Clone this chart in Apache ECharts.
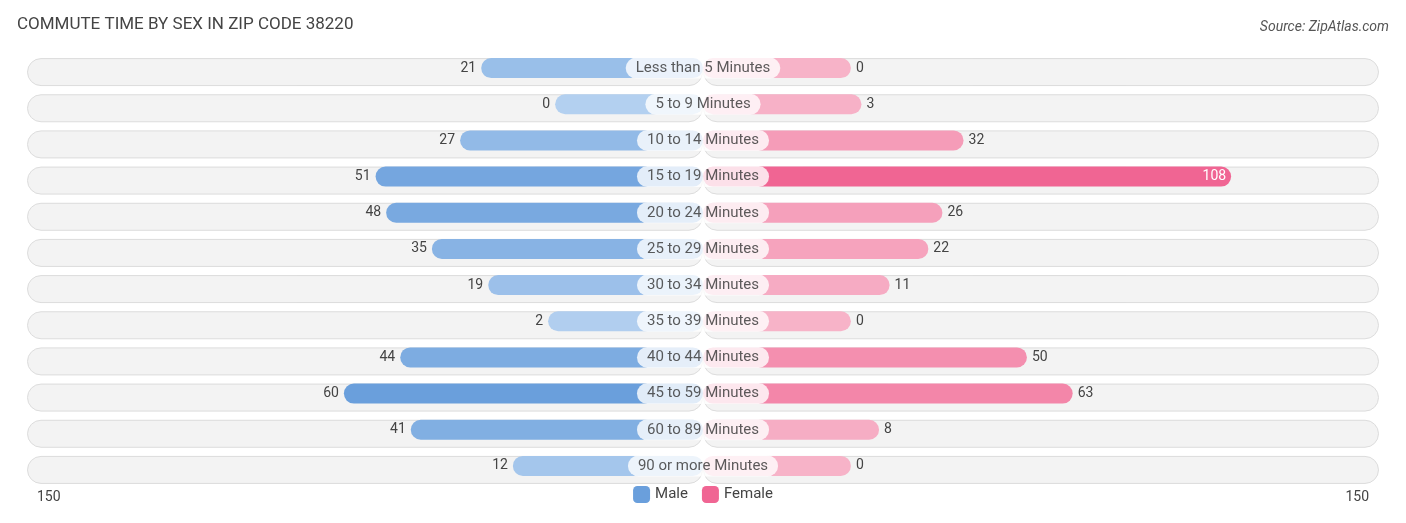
<!DOCTYPE html><html><head><meta charset="utf-8"><script src="https://cdn.jsdelivr.net/npm/echarts@6/dist/echarts.min.js"></script>
<style>body{margin:0}#c{width:1406px;height:523px}</style></head><body><div id="c"></div><script>
const categories=["Less than 5 Minutes","5 to 9 Minutes","10 to 14 Minutes","15 to 19 Minutes","20 to 24 Minutes","25 to 29 Minutes","30 to 34 Minutes","35 to 39 Minutes","40 to 44 Minutes","45 to 59 Minutes","60 to 89 Minutes","90 or more Minutes"];
const male=[21,0,27,51,48,35,19,2,44,60,41,12];
const female=[0,3,32,108,26,22,11,0,50,63,8,0];
const axisMax=150;
const OFF=42, MAXV=axisMax+OFF;
function mix(a,b,t){const p=x=>[1,3,5].map(i=>parseInt(x.substr(i,2),16));const A=p(a),B=p(b);return 'rgb('+A.map((v,i)=>Math.round(v+(B[i]-v)*t)).join(',')+')';}
const ch=echarts.init(document.getElementById('c'));
const F='Roboto';
ch.setOption({
animation:false,
title:[{text:'COMMUTE TIME BY SEX IN ZIP CODE 38220',left:12,top:11,textStyle:{fontFamily:F,fontSize:17,fontWeight:'normal',color:'#444'}},
{text:'Source: ZipAtlas.com',right:12,top:15,textStyle:{fontFamily:F,fontSize:14,fontWeight:'normal',fontStyle:'italic',color:'#555'}}],
legend:{bottom:15,left:'center',itemWidth:17,itemHeight:17,itemGap:14,textStyle:{fontFamily:F,fontSize:15,color:'#444'},data:[{name:'Male',itemStyle:{color:'#6a9fdc'}},{name:'Female',itemStyle:{color:'#f06593'}}]},
graphic:[{type:'text',left:37,top:490,style:{text:String(axisMax),font:'14px Roboto',fill:'#444'}},{type:'text',right:37,top:490,style:{text:String(axisMax),font:'14px Roboto',fill:'#444'}}],
grid:{left:27,right:27,top:50,bottom:39},
xAxis:{type:'value',min:-MAXV,max:MAXV,show:false},
yAxis:{type:'category',data:categories,inverse:true,show:false},
series:[
{type:'bar',data:categories.map(()=>MAXV),barWidth:28,barGap:'-100%',itemStyle:{color:'#f3f3f3',borderColor:'#dcdcdc',borderWidth:1,borderRadius:14},silent:true,z:1},
{type:'bar',data:categories.map(()=>-MAXV),barWidth:28,itemStyle:{color:'#f3f3f3',borderColor:'#dcdcdc',borderWidth:1,borderRadius:14},silent:true,z:1},
{name:'Male',type:'bar',stack:null,barWidth:20,z:3,data:male.map(v=>({value:-(v+OFF),itemStyle:{color:mix('#b3d0f0','#6a9fdc',v/60),borderRadius:10},label:{show:true,position:'left',formatter:String(v),color:'#444',fontFamily:F,fontSize:14}}))},
{name:'Female',type:'bar',barWidth:20,z:3,data:female.map(v=>({value:v+OFF,itemStyle:{color:mix('#f7b3c8','#f06593',v/108),borderRadius:10},label:v>90?{show:true,position:'insideRight',formatter:String(v),color:'#fff',fontFamily:F,fontSize:14}:{show:true,position:'right',formatter:String(v),color:'#444',fontFamily:F,fontSize:14}}))},
{type:'scatter',symbolSize:0,z:5,data:categories.map(c=>[0,c]),label:{show:true,position:'inside',formatter:p=>p.data[1],backgroundColor:'#fff',borderRadius:11,padding:[3,10],color:'#333',fontFamily:F,fontSize:15}}
]});
</script></body></html>
